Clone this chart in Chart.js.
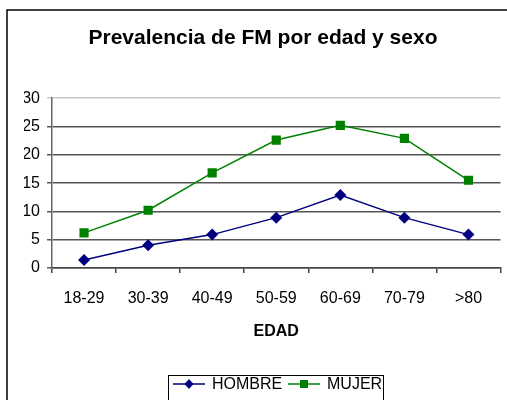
<!DOCTYPE html>
<html>
<head>
<meta charset="utf-8">
<script src="https://cdn.jsdelivr.net/npm/chart.js@4"></script>
<style>
html,body{margin:0;padding:0;background:#fff;}
#wrap{position:relative;width:507px;height:400px;overflow:hidden;}
canvas{display:block;}
</style>
</head>
<body>
<div id="wrap"><canvas id="c" width="507" height="400"></canvas></div>
<script>
const categories = ['18-29', '30-39', '40-49', '50-59', '60-69', '70-79', '>80'];
const hombre = [1.4, 4.0, 5.9, 8.9, 12.9, 8.9, 5.9];
const mujer = [6.2, 10.2, 16.8, 22.6, 25.2, 22.9, 15.5];
const seriesNames = ['HOMBRE', 'MUJER'];
const chartTitle = 'Prevalencia de FM por edad y sexo';
const xTitle = 'EDAD';
const yMax = 30;
const yStep = 5;

const FONT = "'Liberation Sans', Arial, sans-serif";
const NAVY = '#000080';
const GREEN = '#008000';

const frameAndLegend = {
  id: 'frameAndLegend',
  afterDraw(chart) {
    const ctx = chart.ctx;
    ctx.save();
    ctx.strokeStyle = '#000';
    ctx.lineWidth = 1.5;
    ctx.beginPath();
    ctx.moveTo(7, 400);
    ctx.lineTo(7, 10);
    ctx.lineTo(507, 10);
    ctx.stroke();
    ctx.lineWidth = 1;
    ctx.strokeRect(168.5, 375.5, 215, 40);
    const items = chart.data.datasets;
    const starts = [173, 288];
    const y = 384;
    ctx.font = '16px ' + FONT;
    ctx.textBaseline = 'middle';
    ctx.textAlign = 'left';
    items.forEach((ds, i) => {
      const x0 = starts[i];
      ctx.strokeStyle = ds.borderColor;
      ctx.lineWidth = 1.5;
      ctx.beginPath();
      ctx.moveTo(x0, y);
      ctx.lineTo(x0 + 32, y);
      ctx.stroke();
      ctx.fillStyle = ds.pointBackgroundColor;
      const cx = x0 + 16;
      if (ds.pointStyle === 'rectRot') {
        ctx.beginPath();
        ctx.moveTo(cx, y - 5);
        ctx.lineTo(cx + 4.5, y);
        ctx.lineTo(cx, y + 5);
        ctx.lineTo(cx - 4.5, y);
        ctx.closePath();
        ctx.fill();
      } else {
        ctx.fillRect(cx - 4, y - 4, 8, 8);
      }
      ctx.fillStyle = '#000';
      ctx.fillText(ds.label, x0 + 39, y + 1);
    });
    ctx.restore();
  }
};

new Chart(document.getElementById('c'), {
  type: 'line',
  data: {
    labels: categories,
    datasets: [
      {
        label: seriesNames[0],
        data: hombre,
        borderColor: NAVY,
        backgroundColor: NAVY,
        pointBackgroundColor: NAVY,
        pointBorderColor: NAVY,
        pointStyle: 'rectRot',
        pointRadius: 6,
        pointBorderWidth: 0,
        borderWidth: 1.5,
        tension: 0
      },
      {
        label: seriesNames[1],
        data: mujer,
        borderColor: GREEN,
        backgroundColor: GREEN,
        pointBackgroundColor: GREEN,
        pointBorderColor: GREEN,
        pointStyle: 'rect',
        pointRadius: 6.5,
        pointBorderWidth: 0,
        borderWidth: 1.5,
        tension: 0
      }
    ]
  },
  options: {
    responsive: false,
    animation: false,
    events: [],
    layout: { padding: { left: 24, right: 5, top: 0, bottom: 55 } },
    plugins: {
      legend: { display: false },
      tooltip: { enabled: false },
      title: {
        display: true,
        text: chartTitle,
        color: '#000',
        font: { family: FONT, size: 21, weight: 'bold', lineHeight: 1.2 },
        padding: { top: 26, bottom: 47 }
      }
    },
    scales: {
      x: {
        offset: true,
        afterFit(scale) { scale.height = 77; },
        grid: {
          offset: true,
          drawOnChartArea: false,
          drawTicks: true,
          tickLength: 5,
          color: '#444',
          lineWidth: 1.5
        },
        border: { display: true, color: '#444', width: 1.5 },
        ticks: {
          color: '#000',
          font: { family: FONT, size: 16 },
          padding: 16,
          maxRotation: 0,
          autoSkip: false
        },
        title: {
          display: true,
          text: xTitle,
          color: '#000',
          font: { family: FONT, size: 16, weight: 'bold' },
          padding: { top: 4, bottom: 4 }
        }
      },
      y: {
        min: 0,
        max: yMax,
        afterFit(scale) { scale.width = 28; },
        grid: {
          drawTicks: true,
          tickLength: 5,
          color: (c) => (c.tick && c.tick.value === yMax ? '#c8c8c8' : '#555'),
          lineWidth: 1.5
        },
        border: { display: true, color: '#666', width: 1.5 },
        ticks: {
          stepSize: yStep,
          color: '#000',
          font: { family: FONT, size: 16 },
          padding: 7
        }
      }
    }
  },
  plugins: [frameAndLegend]
});
</script>
</body>
</html>
